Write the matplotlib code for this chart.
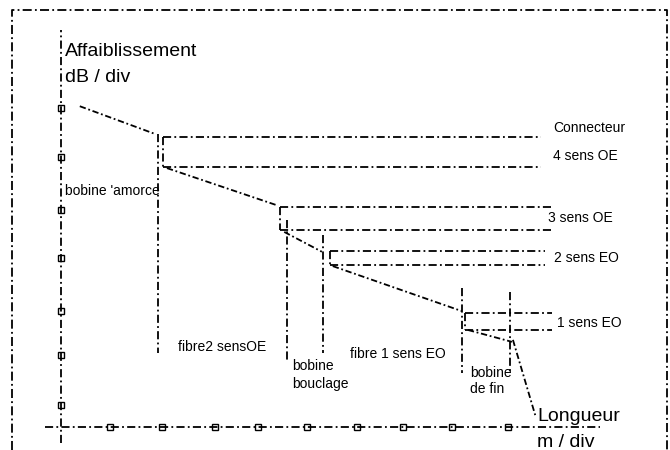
import matplotlib.pyplot as plt
from matplotlib.lines import Line2D

plt.rcParams['font.family'] = ['Liberation Sans', 'DejaVu Sans']

# OTDR trace pieces, in divisions (distance, attenuation)
trace_x0 = [0.38, 2.14, 4.51, 5.49, 8.22, 9.13]
trace_y0 = [6.48, 5.23, 3.94, 3.25, 1.96, 1.76]
trace_x1 = [1.90, 4.36, 5.27, 8.10, 9.11, 9.58]
trace_y1 = [5.92, 4.48, 3.54, 2.34, 1.72, 0.24]

# events: position, level before / after, end of the level lines
event_x = [2.06, 4.42, 5.43, 8.16]
event_top = [5.86, 4.44, 3.56, 2.30]
event_bottom = [5.25, 3.98, 3.27, 1.96]
event_end = [9.70, 9.90, 9.78, 9.92]

# section boundaries
bound_x = [1.96, 4.57, 5.29, 8.10, 9.07]
bound_top = [5.92, 4.18, 3.88, 2.81, 2.73]
bound_bottom = [1.49, 1.31, 1.49, 1.09, 1.11]

# axis ticks
xticks = [0.99, 2.04, 3.11, 3.98, 4.97, 5.98, 6.91, 7.90, 9.03]
yticks = [0.44, 1.45, 2.34, 3.41, 4.38, 5.45, 6.44]

# labels of the level lines
level_labels = ["Connecteur", "4 sens OE", "3 sens OE", "2 sens EO", "1 sens EO"]
level_lx = [9.94, 9.94, 9.84, 9.96, 10.02]
level_ly = [5.96, 5.39, 4.14, 3.33, 2.02]

# labels of the sections
section_labels = ["bobine 'amorce", "fibre2 sensOE", "bobine", "bouclage",
                  "fibre 1 sens EO", "bobine", "de fin"]
section_lx = [0.08, 2.36, 4.67, 4.67, 5.84, 8.26, 8.26]
section_ly = [4.69, 1.54, 1.15, 0.79, 1.39, 1.01, 0.69]

ls = (0, (4.5, 1.8, 1, 1.8))
lw = 1.3

fig = plt.figure(figsize=(6.7, 4.5), dpi=100)
ax = fig.add_axes([0, 0, 1, 1])
ax.set_xlim(-1.232, 12.303)
ax.set_ylim(-0.465, 8.626)
ax.axis('off')

# outer frame
fig.add_artist(Line2D([0.018, 0.018, 0.9955, 0.9955], [0, 0.978, 0.978, 0],
                      transform=fig.transFigure, color='black', lw=lw,
                      linestyle=(0, (5, 1.8, 1, 1.8))))

# axes
ax.plot([-0.32, 10.89], [0, 0], color='black', lw=lw, linestyle=ls)
ax.plot([0, 0], [-0.32, 8.02], color='black', lw=lw, linestyle=ls)
ax.plot(xticks, [0] * len(xticks), linestyle='none', marker='s', ms=4.5,
        mfc='none', mec='black', mew=1.0)
ax.plot([0] * len(yticks), yticks, linestyle='none', marker='s', ms=4.5,
        mfc='none', mec='black', mew=1.0)

# trace
for x0, y0, x1, y1 in zip(trace_x0, trace_y0, trace_x1, trace_y1):
    ax.plot([x0, x1], [y0, y1], color='black', lw=lw, linestyle=(0, (3.5, 1.5, 1, 1.5)))

# events
for x, top, bot, end in zip(event_x, event_top, event_bottom, event_end):
    ax.plot([x, end], [top, top], color='black', lw=lw, linestyle=ls)
    ax.plot([x, end], [bot, bot], color='black', lw=lw, linestyle=ls)
    ax.plot([x, x], [top, bot], color='black', lw=lw, linestyle=ls)

# section boundaries
for x, top, bot in zip(bound_x, bound_top, bound_bottom):
    ax.plot([x, x], [top, bot], color='black', lw=lw, linestyle=ls)

for t, x, y in zip(level_labels, level_lx, level_ly):
    ax.text(x, y, t, fontsize=10, ha='left', va='baseline')
for t, x, y in zip(section_labels, section_lx, section_ly):
    ax.text(x, y, t, fontsize=10, ha='left', va='baseline')

ax.text(0.08, 7.49, "Affaiblissement", fontsize=14, ha='left', va='baseline')
ax.text(0.08, 6.97, "dB / div", fontsize=14, ha='left', va='baseline')
ax.text(9.62, 0.12, "Longueur", fontsize=14, ha='left', va='baseline')
ax.text(9.62, -0.40, "m / div", fontsize=14, ha='left', va='baseline')

fig.savefig("out.png", dpi=100)
